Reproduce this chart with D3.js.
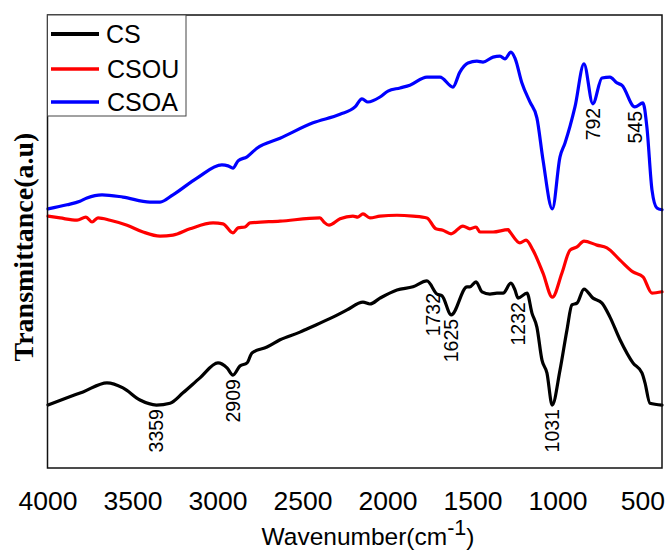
<!DOCTYPE html>
<html>
<head>
<meta charset="utf-8">
<script src="https://cdn.jsdelivr.net/npm/d3@7/dist/d3.min.js"></script>
<style>
  html, body { margin: 0; padding: 0; background: #fff; }
  svg { display: block; }
</style>
</head>
<body>
<div id="chart"></div>
<script>
// FTIR spectra of CS, CSOU and CSOA (transmittance in arbitrary units)
const seriesNames = ["CS", "CSOU", "CSOA"];
const seriesColors = ["#000000", "#ff0000", "#0000ff"];

const csWavenumber = [3997,3885,3791,3650,3556,3456,3359,3279,3203,3103,2997,2944,2909,2868,2826,2797,2709,2632,2515,2474,2321,2238,2144,2103,2044,1944,1850,1768,1709,1679,1625,1532,1515,1479,1444,1397,1356,1320,1274,1250,1232,1179,1150,1121,1091,1062,1031,985,944,915,885,844,791,738,691,632,556,503,485,456,385];
const csTransmittance = [13.9,15.5,16.8,18.8,17.7,15.0,13.9,14.3,16.6,19.9,23.2,22.1,20.5,22.5,23.2,25.4,26.7,28.3,30.0,30.7,33.3,34.9,36.6,36.2,37.5,39.3,40.0,41.3,38.4,38.0,33.8,40.0,40.0,41.1,38.9,38.4,38.6,38.6,40.8,39.3,37.5,38.6,34.2,31.1,23.8,21.0,13.9,21.6,30.5,36.0,36.4,39.5,37.5,36.4,33.3,28.3,23.2,21.0,18.8,14.3,13.9];

const csouWavenumber = [3997,3926,3826,3774,3738,3703,3632,3532,3438,3338,3262,3162,3026,2968,2909,2879,2838,2809,2632,2397,2374,2344,2279,2203,2174,2144,2103,2044,1944,1850,1768,1715,1674,1626,1556,1515,1479,1456,1379,1290,1279,1221,1185,1144,1085,1030,974,926,885,844,768,709,632,556,497,444,385];
const csouTransmittance = [55.6,55.2,54.7,55.4,54.3,55.2,54.7,53.6,52.1,51.2,51.4,52.8,54.1,53.9,51.9,53.0,53.2,54.1,54.5,55.2,54.3,53.6,55.0,55.6,55.4,56.1,55.2,55.6,55.8,55.6,55.2,52.8,52.5,51.7,53.4,52.8,53.2,52.1,52.1,52.6,52.1,49.7,50.3,48.1,43.0,37.7,43.0,48.1,48.8,50.1,49.2,48.6,45.9,43.3,42.2,38.6,38.9];

const csoaWavenumber = [3997,3885,3809,3768,3679,3556,3397,3338,3262,3121,2974,2938,2909,2879,2826,2768,2632,2438,2279,2191,2150,2115,2044,1997,1926,1868,1768,1691,1615,1574,1526,1474,1438,1379,1338,1309,1274,1250,1209,1162,1121,1085,1030,985,956,897,844,792,738,691,650,621,545,497,474,444,415,385];
const csoaTransmittance = [57.2,58.1,58.9,59.6,60.3,59.8,58.7,58.7,60.3,64.0,66.9,66.7,66.2,67.8,68.7,70.6,72.8,76.2,78.1,79.7,81.5,80.8,81.9,83.2,83.9,84.5,86.3,86.3,84.1,87.4,89.4,89.8,89.6,90.7,90.9,90.3,91.8,90.5,85.0,80.8,77.3,68.0,57.2,68.7,71.7,79.7,89.2,80.4,86.1,86.3,85.0,84.5,79.7,80.6,75.3,61.4,57.4,57.0];

const xTickValues = [4000, 3500, 3000, 2500, 2000, 1500, 1000, 500];

// Annotated absorption bands: label text and the spectrum it belongs to
const bandLabels = ["3359", "2909", "1732", "1625", "1232", "1031", "792", "545"];
const bandSeries = ["CS", "CS", "CS", "CS", "CS", "CS", "CSOA", "CSOA"];

const series = [
  { name: seriesNames[0], color: seriesColors[0], wn: csWavenumber, t: csTransmittance },
  { name: seriesNames[1], color: seriesColors[1], wn: csouWavenumber, t: csouTransmittance },
  { name: seriesNames[2], color: seriesColors[2], wn: csoaWavenumber, t: csoaTransmittance }
].map(s => ({ ...s, points: s.wn.map((w, i) => ({ wn: w, t: s.t[i] })) }));

const width = 670, height = 551;
const plot = { left: 47.5, right: 662, top: 15, bottom: 468 };
const sans = "'Liberation Sans', Arial, Helvetica, sans-serif";
const serif = "'Liberation Serif', 'Times New Roman', Times, serif";

const x = d3.scaleLinear().domain([4000, 385]).range([plot.left, plot.right]);
const y = d3.scaleLinear().domain([0, 100]).range([plot.bottom, plot.top]);

const svg = d3.select("#chart").append("svg")
  .attr("width", width).attr("height", height);

// Spectra
const line = d3.line()
  .x(d => x(d.wn))
  .y(d => y(d.t))
  .curve(d3.curveMonotoneX);

svg.append("g").selectAll("path")
  .data(series)
  .join("path")
  .attr("d", d => line(d.points))
  .attr("fill", "none")
  .attr("stroke", d => d.color)
  .attr("stroke-width", 3.2)
  .attr("stroke-linejoin", "round")
  .attr("stroke-linecap", "round");

// Band annotations, placed just below the spectrum at that wavenumber
function valueAt(s, wn) {
  const pts = s.points;
  for (let i = 0; i < pts.length - 1; i++) {
    const a = pts[i], b = pts[i + 1];
    if (wn <= a.wn && wn >= b.wn) {
      const f = (a.wn - wn) / (a.wn - b.wn);
      return a.t + f * (b.t - a.t);
    }
  }
  return pts[pts.length - 1].t;
}

svg.append("g").selectAll("text")
  .data(bandLabels.map((txt, i) => ({ txt, s: series.find(s => s.name === bandSeries[i]) })))
  .join("text")
  .attr("transform", d => `translate(${x(+d.txt)},${y(valueAt(d.s, +d.txt)) + 4}) rotate(-90)`)
  .attr("text-anchor", "end")
  .attr("dy", "0.36em")
  .attr("font-family", sans)
  .attr("font-size", 19.5)
  .attr("fill", "#000")
  .text(d => d.txt);

// Frame
svg.append("rect")
  .attr("x", plot.left).attr("y", plot.top)
  .attr("width", plot.right - plot.left).attr("height", plot.bottom - plot.top)
  .attr("fill", "none").attr("stroke", "#111").attr("stroke-width", 1.5);

// X axis (labels only)
const xAxis = svg.append("g")
  .attr("transform", `translate(0,${plot.bottom})`)
  .call(d3.axisBottom(x).tickValues(xTickValues).tickSize(0).tickPadding(23).tickFormat(d3.format("d")));
xAxis.select(".domain").remove();
xAxis.selectAll("text")
  .attr("font-family", sans)
  .attr("font-size", 26.5)
  .attr("fill", "#000");

// Axis titles
const xTitle = svg.append("text")
  .attr("x", 368).attr("y", 545)
  .attr("text-anchor", "middle")
  .attr("font-family", sans)
  .attr("font-size", 24.5)
  .attr("fill", "#000");
xTitle.append("tspan").text("Wavenumber(cm");
xTitle.append("tspan").attr("dy", -10).attr("font-size", 21.5).text("-1");
xTitle.append("tspan").attr("dy", 10).text(")");

svg.append("text")
  .attr("transform", `translate(33,247) rotate(-90)`)
  .attr("text-anchor", "middle")
  .attr("font-family", serif)
  .attr("font-weight", "bold")
  .attr("font-size", 28)
  .attr("fill", "#000")
  .text("Transmittance(a.u)");

// Legend
const legend = svg.append("g");
legend.append("rect")
  .attr("x", plot.left).attr("y", plot.top)
  .attr("width", 138.5).attr("height", 101)
  .attr("fill", "#fff").attr("stroke", "#444").attr("stroke-width", 1);

const legendRowY = [34, 69, 102];
const legendRows = legend.selectAll("g.row")
  .data(series)
  .join("g")
  .attr("class", "row")
  .attr("transform", (d, i) => `translate(0,${legendRowY[i]})`);
legendRows.append("line")
  .attr("x1", 51).attr("x2", 99)
  .attr("stroke", d => d.color)
  .attr("stroke-width", (d, i) => i === 0 ? 4 : 3.5);
legendRows.append("text")
  .attr("x", (d, i) => i === 0 ? 106 : 107)
  .attr("y", 8.5)
  .attr("font-family", sans)
  .attr("font-size", 25)
  .attr("fill", "#000")
  .text(d => d.name);
</script>
</body>
</html>
